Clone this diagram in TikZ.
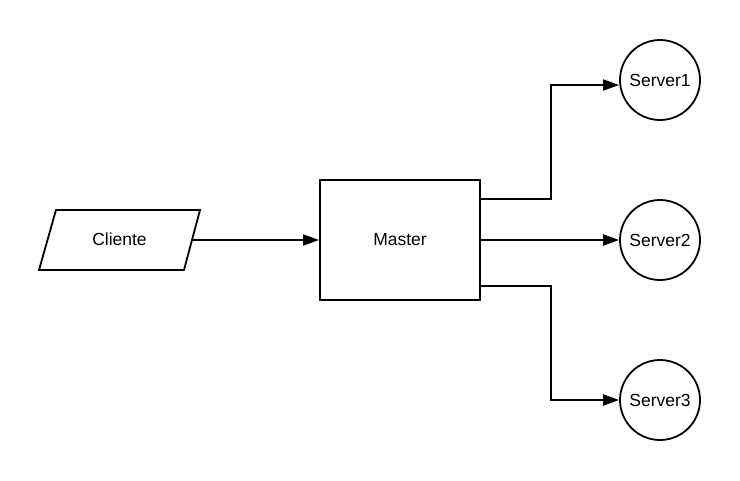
\documentclass[tikz,border=0pt]{standalone}
\usepackage{fontspec}
\setmainfont{Liberation Sans}
\usetikzlibrary{arrows.meta}
\begin{document}
\begin{tikzpicture}[x=1pt,y=-1pt,
  every node/.style={font=\fontsize{17.5}{20}\selectfont, line width=1.8pt},
  outline/.style={draw, line width=1.8pt, line join=miter},
  lbl/.style={inner sep=0pt},
  procbox/.style={draw, rectangle, minimum width=160pt, minimum height=120pt, inner sep=0pt},
  srv/.style={draw, circle, minimum size=80pt, inner sep=0pt},
  arr/.style={line width=1.8pt, -{Triangle[length=16pt,width=11pt]}}
]
\useasboundingbox (0,0) rectangle (740,480);
\node[lbl] (cliente) at (119.5,239) {Cliente};
\draw[outline] (56,210) -- (200,210) -- (184,270) -- (39,270) -- cycle;
\coordinate (clienteR) at (192,240);
\node[procbox] (master) at (400,240) {Master};
\node[srv] (s1) at (660,80) {Server1};
\node[srv] (s2) at (660,240) {Server2};
\node[srv] (s3) at (660,400) {Server3};
\draw[arr] (clienteR) -- (master.west);
\draw[arr] ([yshift=41pt]master.east) -- ++(70,0) |- ([yshift=-5pt]s1.west);
\draw[arr] (master.east) -- (s2.west);
\draw[arr] ([yshift=-46pt]master.east) -- ++(70,0) |- (s3.west);
\end{tikzpicture}
\end{document}
